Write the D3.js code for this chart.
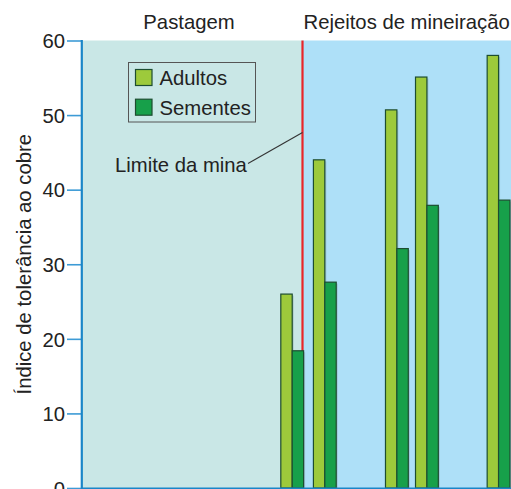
<!DOCTYPE html>
<html><head><meta charset="utf-8">
<script src="https://cdn.jsdelivr.net/npm/d3@7"></script>
<style>
html,body{margin:0;padding:0;background:#fff;}
svg{display:block;font-family:"Liberation Sans",Arial,Helvetica,sans-serif;}
</style></head>
<body><div id="chart"></div>
<script>
// Data (positions along the transect, arbitrary distance units)
const posicoes = [49.0, 56.6, 73.4, 80.4, 97.1];
const adultos = [26.0, 44.0, 50.7, 55.1, 58.0];
const sementes = [18.4, 27.6, 32.1, 37.9, 38.6];
const series = ["Adultos", "Sementes"];
const limiteMina = 51.4;
const yTicks = [0, 10, 20, 30, 40, 50, 60];
const regioes = ["Pastagem", "Rejeitos de mineiração"];
const yLabel = "Índice de tolerância ao cobre";
const limiteLabel = "Limite da mina";

const W = 511, H = 489;
const FS = 20.3;
const colors = {Adultos: "#9dca3b", Sementes: "#17a04a"};

const svg = d3.select("#chart").append("svg").attr("width", W).attr("height", H);

const x = d3.scaleLinear().domain([0, 100]).range([82, 511]);
const y = d3.scaleLinear().domain([0, 60]).range([488, 40.5]);
const barW = 11.4;

// backgrounds
svg.append("rect").attr("x", x(0)).attr("y", y(60)).attr("width", x(limiteMina) - x(0)).attr("height", y(0) - y(60)).attr("fill", "#c9e7e6");
svg.append("rect").attr("x", x(limiteMina)).attr("y", y(60)).attr("width", x(100) - x(limiteMina)).attr("height", y(0) - y(60)).attr("fill", "#aee0f8");

// region labels
svg.append("text").attr("x", 189).attr("y", 28.5).attr("text-anchor", "middle").attr("font-size", FS).attr("fill", "#222").text(regioes[0]);
svg.append("text").attr("x", 303.5).attr("y", 28.5).attr("text-anchor", "start").attr("font-size", FS).attr("fill", "#222").text(regioes[1]);

// mine boundary
svg.append("line").attr("x1", x(limiteMina)).attr("x2", x(limiteMina)).attr("y1", y(60)).attr("y2", y(0)).attr("stroke", "#e8262b").attr("stroke-width", 2.2);

// bars
const data = posicoes.map((p, i) => ({p, Adultos: adultos[i], Sementes: sementes[i]}));
const g = svg.append("g");
data.forEach(d => {
  series.forEach((s, j) => {
    const bx = x(d.p) + (j === 0 ? -barW : 0);
    g.append("rect").attr("x", bx + 1.5).attr("y", y(d[s]) + 1.5).attr("width", barW).attr("height", y(0) - y(d[s]) - 1.5).attr("fill", "#7a8f9a").attr("opacity", 0.35);
  });
});
data.forEach(d => {
  series.forEach((s, j) => {
    const bx = x(d.p) + (j === 0 ? -barW : 0);
    g.append("rect").attr("x", bx).attr("y", y(d[s])).attr("width", barW).attr("height", y(0) - y(d[s]))
      .attr("fill", colors[s]).attr("stroke", "#1d4d30").attr("stroke-width", 1.2);
  });
});

// limit label + leader
svg.append("text").attr("x", 115).attr("y", 171.5).attr("font-size", FS).attr("fill", "#222").text(limiteLabel);
svg.append("line").attr("x1", 248).attr("y1", 163.5).attr("x2", x(limiteMina)).attr("y2", 132.5).attr("stroke", "#333").attr("stroke-width", 1.1);

// legend
const lg = svg.append("g");
lg.append("rect").attr("x", 128.5).attr("y", 62.5).attr("width", 127).attr("height", 59.5).attr("fill", "#c9e7e6").attr("stroke", "#555").attr("stroke-width", 1);
series.forEach((s, i) => {
  const yy = 69.5 + i * 29.7;
  lg.append("rect").attr("x", 135.5).attr("y", yy).attr("width", 16.5).attr("height", 16).attr("fill", colors[s]).attr("stroke", "#1d4d30").attr("stroke-width", 1.2);
  lg.append("text").attr("x", 159.5).attr("y", yy + 15.5).attr("font-size", FS).attr("fill", "#222").text(s);
});

// y axis
const yAxis = d3.axisLeft(y).tickValues(yTicks).tickSize(14).tickPadding(2).tickFormat(d3.format("d"));
const ax = svg.append("g").attr("transform", "translate(81,0)").call(yAxis);
ax.select(".domain").remove();
ax.selectAll(".tick line").attr("stroke", "#3d9bd6").attr("stroke-width", 1.6);
ax.selectAll(".tick text").attr("font-size", FS).attr("fill", "#222").attr("font-family", "'Liberation Sans',Arial,sans-serif").attr("dy", "0.36em");
svg.append("line").attr("x1", 81.8).attr("x2", 81.8).attr("y1", y(60) - 0.5).attr("y2", y(0) + 1).attr("stroke", "#1a86c8").attr("stroke-width", 2.2);
svg.append("line").attr("x1", 81).attr("x2", 511).attr("y1", y(0) + 0.5).attr("y2", y(0) + 0.5).attr("stroke", "#1a86c8").attr("stroke-width", 2);

// y label
svg.append("text").attr("transform", `translate(31,${(y(0) + y(60)) / 2}) rotate(-90)`).attr("text-anchor", "middle").attr("font-size", FS).attr("fill", "#222").text(yLabel);
</script>
</body></html>
